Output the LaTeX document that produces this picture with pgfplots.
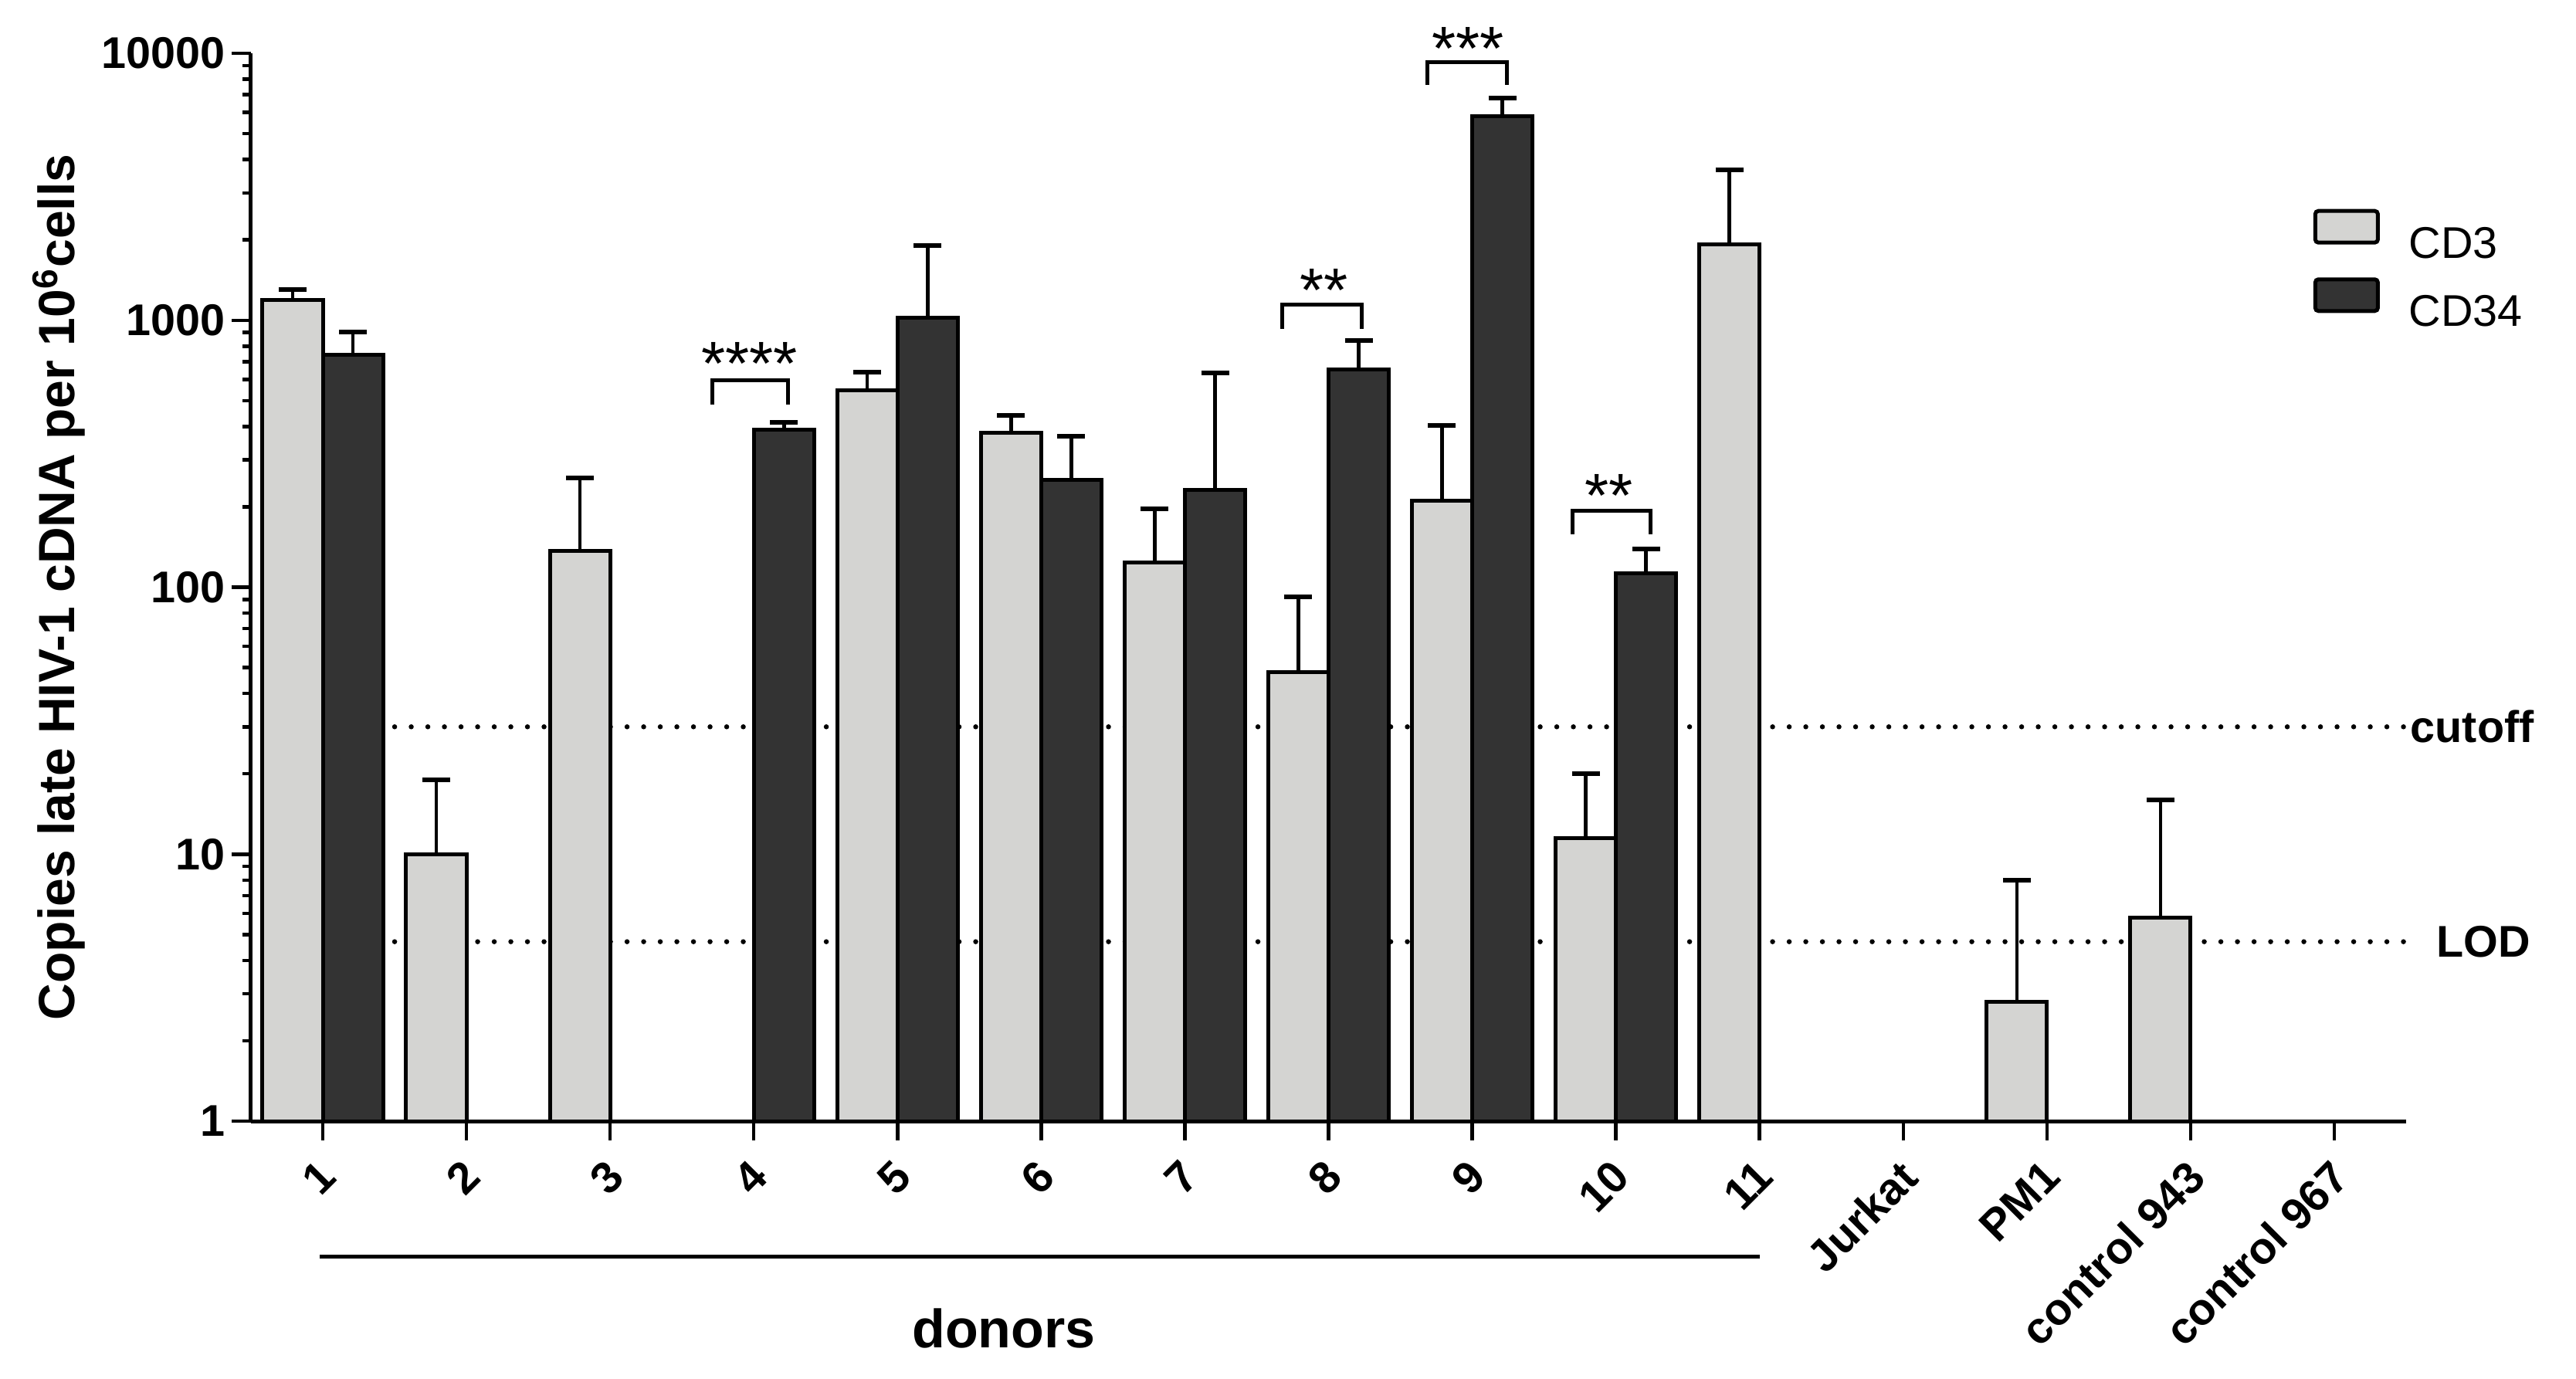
\documentclass[border=0pt]{standalone}
\usepackage{fontspec}
\setmainfont{Liberation Sans}
\usepackage{pgfplots}
\pgfplotsset{compat=1.18}
\definecolor{cdthree}{RGB}{212,212,210}
\definecolor{cdtf}{RGB}{51,51,51}

\begin{document}
\begin{tikzpicture}
\path[use as bounding box] (-65pt,-66.6pt) rectangle (602.2pt,290.4pt);
\begin{axis}[
  at={(0pt,0pt)}, anchor=south west,
  scale only axis, width=558.2pt, height=276.6pt,
  ymode=log, ymin=1, ymax=10000,
  xmin=0.5, xmax=15.5,
  axis lines*=left,
  axis line style={line width=1pt},
  clip=false,
  xtick={1,...,15},
  xticklabels={1,2,3,4,5,6,7,8,9,10,11,Jurkat,PM1,control 943,control 967},
  ytick={1,10,100,1000,10000},
  yticklabels={1,10,100,1000,10000},
  tick align=outside,
  major tick length=5pt, minor tick length=2.2pt,
  tick style={line width=0.9pt, black},
  tick label style={font=\fontsize{11.5}{13}\selectfont\bfseries},
  xticklabel style={xshift=-1.5pt, yshift=-4.3pt, rotate=45, anchor=north east, inner sep=0pt},
  yticklabel style={inner sep=1.5pt},
  ylabel={Copies late HIV-1 cDNA per 10\textsuperscript{6}cells},
  every axis y label/.style={at={(axis description cs:-0.0892,0.5)}, rotate=90, anchor=center,
    font=\fontsize{13.2}{15}\selectfont\bfseries},
  legend style={at={(0.9566,0.8549)}, anchor=north west, draw=none, fill=none,
    inner sep=0pt, row sep=5pt, column sep=7.6pt,
    nodes={inner sep=0pt, text depth=0pt}, font=\fontsize{11.5}{13}\selectfont},
  legend cell align=left,
]
% cutoff and LOD lines, behind the bars
\addplot[forget plot, black, line width=1.3pt, line cap=round, dash pattern=on 0pt off 4.3pt]
  coordinates {(1.5,30) (15.5,30)};
\addplot[forget plot, black, line width=1.3pt, line cap=round, dash pattern=on 0pt off 4.3pt]
  coordinates {(1.5,4.7) (15.5,4.7)};

% CD3 (left bar of each pair)
\addplot[ybar, bar width=0.42, bar shift=0, fill=cdthree, draw=black, line width=1pt,
  legend image code/.code={\draw[fill=cdthree, draw=black, line width=1pt, rounded corners=0.8pt] (0pt,0pt) rectangle (16.2pt,8.2pt);},
  error bars/.cd, y dir=plus, y explicit,
  error bar style={line width=0.9pt, black},
  error mark options={rotate=90, mark size=3.6pt, line width=1.2pt, black}]
  table[x expr=\thisrow{x}-0.21, y=y, y error=e] {
x  y     e
1  1195  105
2  10    9
3  137   120
5  548   91
6  380   60
7  124   73
8  48    44
9  211   193
10 11.5  8.5
11 1920  1736
13 2.8   5.2
14 5.8   10.2
};
\addlegendentry{CD3}

% CD34 (right bar of each pair)
\addplot[ybar, bar width=0.42, bar shift=0, fill=cdtf, draw=black, line width=1pt,
  legend image code/.code={\draw[fill=cdtf, draw=black, line width=1pt, rounded corners=0.8pt] (0pt,0pt) rectangle (16.2pt,8.2pt);},
  error bars/.cd, y dir=plus, y explicit,
  error bar style={line width=0.9pt, black},
  error mark options={rotate=90, mark size=3.6pt, line width=1.2pt, black}]
  table[x expr=\thisrow{x}+0.21, y=y, y error=e] {
x  y     e
1  740   163
4  388   26
5  1019  886
6  253   115
7  231   404
8  656   183
9  5810  1010
10 113   26
};
\addlegendentry{CD34}

% significance brackets
\draw[line width=1pt] (axis cs:3.71,483) |- (axis cs:4.24,594) -- (axis cs:4.24,483);
\node[font=\fontsize{16}{18}\selectfont, inner sep=0pt, yshift=-0.8pt] at (axis cs:3.97,706) {****};
\draw[line width=1pt] (axis cs:7.68,927) |- (axis cs:8.23,1148) -- (axis cs:8.23,927);
\node[font=\fontsize{16}{18}\selectfont, inner sep=0pt, yshift=-0.8pt] at (axis cs:7.97,1330) {**};
\draw[line width=1pt] (axis cs:8.69,7610) |- (axis cs:9.24,9290) -- (axis cs:9.24,7610);
\node[font=\fontsize{16}{18}\selectfont, inner sep=0pt, yshift=-0.8pt] at (axis cs:8.97,10690) {***};
\draw[line width=1pt] (axis cs:9.70,158) |- (axis cs:10.24,194) -- (axis cs:10.24,158);
\node[font=\fontsize{16}{18}\selectfont, inner sep=0pt, yshift=-0.8pt] at (axis cs:9.95,226) {**};

% line labels
\node[font=\fontsize{11.5}{13}\selectfont\bfseries] at (axis cs:15.96,30) {cutoff};
\node[font=\fontsize{11.5}{13}\selectfont\bfseries] at (axis cs:16.04,4.7) {LOD};

% donors group
\draw[line width=1pt] ([yshift=-35pt]axis cs:0.98,1) -- ([yshift=-35pt]axis cs:11,1);
\node[font=\fontsize{14}{16}\selectfont\bfseries] at ([yshift=-53.6pt]axis cs:5.74,1) {donors};
\end{axis}
\end{tikzpicture}
\end{document}
